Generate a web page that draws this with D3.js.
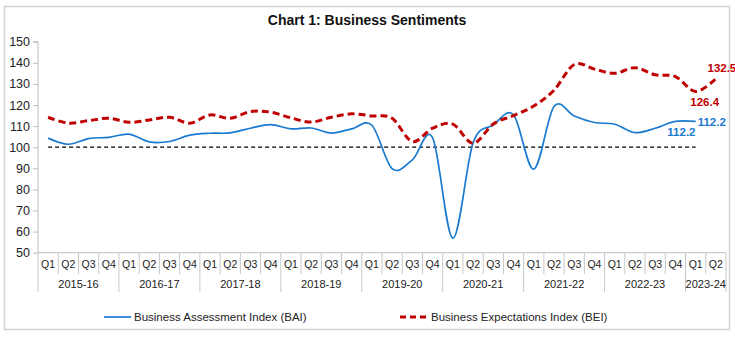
<!DOCTYPE html>
<html>
<head>
<meta charset="utf-8">
<script src="https://cdn.jsdelivr.net/npm/d3@7"></script>
<style>
  html, body { margin: 0; padding: 0; background: #fff; }
  svg { display: block; font-family: "Liberation Sans", Arial, sans-serif; }
</style>
</head>
<body>
<svg id="chart" width="735" height="337"></svg>
<script>
// ---- data ----
const years = ["2015-16","2016-17","2017-18","2018-19","2019-20","2020-21","2021-22","2022-23","2023-24"];
const quarters = ["Q1","Q2","Q3","Q4"];
const yearQuarterCounts = [4,4,4,4,4,4,4,4,2];
const baiValues = [104.3,101.4,104.1,104.7,106.2,102.5,102.7,105.7,106.6,106.8,109.0,110.7,108.7,109.1,106.7,108.7,110.4,89.8,94.0,104.5,56.9,102.0,110.5,115.3,89.6,119.3,114.8,111.7,110.9,106.9,109.0,112.2,112.2];
const beiValues = [114.2,111.4,112.6,113.7,111.8,112.9,114.2,111.4,115.3,113.7,116.9,116.6,113.9,111.9,114.2,115.8,114.8,113.7,102.7,109.0,110.9,101.9,111.0,115.0,119.5,127.0,139.2,137.0,135.0,137.7,134.3,133.5,126.4,132.5];
const yTicks = [50,60,70,80,90,100,110,120,130,140,150];
const seriesNames = ["Business Assessment Index (BAI)","Business Expectations Index (BEI)"];
const title = "Chart 1: Business Sentiments";

// ---- build categories ----
const cats = [];
years.forEach((y, yi) => { for (let q = 0; q < yearQuarterCounts[yi]; q++) cats.push({year: y, q: quarters[q], key: y + "-" + quarters[q]}); });
const keys = cats.map(c => c.key);

const svg = d3.select("#chart");
const plotL = 38, plotR = 726, plotT = 41.7, plotB = 252.7;

// border
svg.append("rect").attr("x", 4.5).attr("y", 6.5).attr("width", 725).attr("height", 323)
  .attr("fill", "#fff").attr("stroke", "#d4d4d4").attr("stroke-width", 1.5);

// title
svg.append("text").attr("x", 367).attr("y", 25).attr("text-anchor", "middle")
  .attr("font-size", 14).attr("font-weight", "bold").attr("fill", "#111").text(title);

const x = d3.scaleBand().domain(keys).range([plotL, plotR]).paddingInner(0).paddingOuter(0);
const xc = k => x(k) + x.bandwidth() / 2;
const y = d3.scaleLinear().domain([50, 150]).range([plotB, plotT]);

// y axis
const yAxis = d3.axisLeft(y).tickValues(yTicks).tickSize(5).tickPadding(3);
const gy = svg.append("g").attr("transform", `translate(${plotL},0)`).call(yAxis);
gy.select(".domain").attr("stroke", "#bfbfbf").attr("d", `M-5,${y(150)}H0V${y(50)}`);
gy.selectAll(".tick line").attr("stroke", "#bfbfbf");
gy.selectAll(".tick text").attr("font-size", 12.5).attr("fill", "#222").attr("font-family", "Liberation Sans, Arial, sans-serif");

// x axis baseline
svg.append("line").attr("x1", plotL).attr("x2", plotR).attr("y1", plotB).attr("y2", plotB)
  .attr("stroke", "#bfbfbf");

// quarter separators & labels
const gx = svg.append("g");
keys.forEach((k, i) => {
  const isYearStart = cats[i].q === "Q1";
  gx.append("line").attr("x1", x(k)).attr("x2", x(k)).attr("y1", plotB)
    .attr("y2", isYearStart ? 292 : 274).attr("stroke", "#c8c8c8");
  gx.append("text").attr("x", xc(k)).attr("y", 268).attr("text-anchor", "middle")
    .attr("font-size", 10.5).attr("fill", "#222").text(cats[i].q);
});
gx.append("line").attr("x1", plotR).attr("x2", plotR).attr("y1", plotB).attr("y2", 292).attr("stroke", "#c8c8c8");
// year labels
let idx = 0;
years.forEach((yr, yi) => {
  const first = keys[idx], last = keys[idx + yearQuarterCounts[yi] - 1];
  const cx = (x(first) + x(last) + x.bandwidth()) / 2;
  gx.append("text").attr("x", cx).attr("y", 287.5).attr("text-anchor", "middle")
    .attr("font-size", 11).attr("fill", "#222").text(yr);
  idx += yearQuarterCounts[yi];
});

// reference line at 100
svg.append("line").attr("x1", xc(keys[0])).attr("x2", xc(keys[baiValues.length - 1]))
  .attr("y1", y(100)).attr("y2", y(100)).attr("stroke", "#000").attr("stroke-width", 1.2)
  .attr("stroke-dasharray", "4,3");

const line = d3.line().x((d, i) => xc(keys[i])).y(d => y(d)).curve(d3.curveCardinal.tension(0));

svg.append("path").datum(baiValues).attr("d", line).attr("fill", "none")
  .attr("stroke", "#1a7ad0").attr("stroke-width", 1.7);
svg.append("path").datum(beiValues).attr("d", line).attr("fill", "none")
  .attr("stroke", "#c00000").attr("stroke-width", 3).attr("stroke-dasharray", "7,4");

// data labels
const nB = baiValues.length;
svg.append("text").attr("x", xc(keys[nB - 1]) + 2).attr("y", y(baiValues[nB - 1]) + 4.5)
  .attr("font-size", 11.5).attr("font-weight", "bold").attr("fill", "#1a7ad0").text(baiValues[nB - 1].toFixed(1));
svg.append("text").attr("x", xc(keys[nB - 2]) + 6).attr("y", y(baiValues[nB - 2]) + 15)
  .attr("text-anchor", "middle").attr("font-size", 11.5).attr("font-weight", "bold").attr("fill", "#1a7ad0").text(baiValues[nB - 2].toFixed(1));
const nE = beiValues.length;
svg.append("text").attr("x", xc(keys[nE - 2]) + 9).attr("y", y(beiValues[nE - 2]) + 15)
  .attr("text-anchor", "middle").attr("font-size", 11.5).attr("font-weight", "bold").attr("fill", "#c00000").text(beiValues[nE - 2].toFixed(1));
svg.append("text").attr("x", xc(keys[nE - 1]) + 6).attr("y", y(beiValues[nE - 1]) - 7)
  .attr("text-anchor", "middle").attr("font-size", 11.5).attr("font-weight", "bold").attr("fill", "#c00000").text(beiValues[nE - 1].toFixed(1));

// legend
const lg = svg.append("g");
lg.append("line").attr("x1", 104).attr("x2", 131).attr("y1", 317).attr("y2", 317)
  .attr("stroke", "#1a7ad0").attr("stroke-width", 1.7);
lg.append("text").attr("x", 134).attr("y", 321).attr("font-size", 11.5).attr("fill", "#222").text(seriesNames[0]);
lg.append("line").attr("x1", 400).attr("x2", 428).attr("y1", 317).attr("y2", 317)
  .attr("stroke", "#c00000").attr("stroke-width", 3).attr("stroke-dasharray", "6,4");
lg.append("text").attr("x", 431).attr("y", 321).attr("font-size", 11.5).attr("fill", "#222").text(seriesNames[1]);
</script>
</body>
</html>
